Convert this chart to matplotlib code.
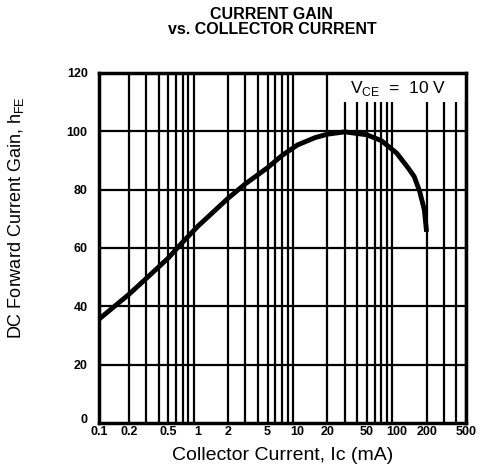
import numpy as np
import matplotlib
matplotlib.use('Agg')
import matplotlib.pyplot as plt
import matplotlib.transforms as mtransforms
from matplotlib.patches import Rectangle
from matplotlib.ticker import FixedLocator, NullFormatter

plt.rcParams['font.family'] = ['Liberation Sans', 'DejaVu Sans']

# curve
ic_ma = [0.1, 0.2, 0.3, 0.5, 0.7, 1, 2, 3, 5, 7, 10, 15, 20, 30, 50, 70, 100, 130, 150, 170, 190, 200]
hfe = [35.5, 44, 49.5, 56.5, 62, 67.5, 77, 82, 87.5, 91.7, 95.3, 97.8, 99, 99.8, 98.8, 96.8,
       92.5, 87.5, 84.5, 79.5, 73, 65.5]

x_ticks = [0.1, 0.2, 0.5, 1, 2, 5, 10, 20, 50, 100, 200, 500]
x_labels = ['0.1', '0.2', '0.5', '1', '2', '5', '10', '20', '50', '100', '200', '500']
y_ticks = [0, 20, 40, 60, 80, 100, 120]

fig = plt.figure(figsize=(4.82, 4.74), dpi=100)
ax = fig.add_axes([0.205, 0.108, 0.762, 0.738])

ax.set_xscale('log')
ax.set_xlim(0.1, 500)
ax.set_ylim(0, 120)

# full decade grid
minor = [m * 10.0**d for d in range(-1, 3) for m in range(2, 10)]
minor = [v for v in minor if v < 500]
for v in minor + [500]:
    ax.axvline(v, color='black', lw=1.6, zorder=1)
for v in y_ticks[1:-1]:
    ax.axhline(v, color='black', lw=1.6, zorder=1)

ax.plot(ic_ma, hfe, color='black', lw=3.5, solid_capstyle='butt',
        solid_joinstyle='round', zorder=3)

ax.xaxis.set_major_locator(FixedLocator(x_ticks))
ax.set_xticklabels(x_labels)
ax.xaxis.set_minor_formatter(NullFormatter())
ax.set_yticks(y_ticks)
ax.tick_params(which='both', length=0, labelsize=9)
ax.tick_params(axis='x', pad=2)
ax.tick_params(axis='y', pad=8)
for lab in ax.get_xticklabels() + ax.get_yticklabels():
    lab.set_fontweight('bold')
# lift the "0" label a little off the x axis
lab0 = ax.get_yticklabels()[0]
lab0.set_transform(lab0.get_transform() + mtransforms.ScaledTranslation(0, 3 / 72, fig.dpi_scale_trans))

for s in ax.spines.values():
    s.set_linewidth(2.5)
    s.set_zorder(6)

# white patch behind the condition label
ax.add_patch(Rectangle((0.643, 0.917), 0.357, 0.083, transform=ax.transAxes,
                       facecolor='white', edgecolor='none', zorder=4))
ax.text(0.815, 0.955, 'V$_{\\mathregular{CE}}$  =  10 V', transform=ax.transAxes,
        ha='center', va='center', fontsize=12.5, zorder=5)

ax.set_xlabel('Collector Current, Ic (mA)', fontsize=14, labelpad=7)
ax.set_ylabel('DC Forward Current Gain, h$_{\\mathregular{FE}}$', fontsize=13)
ax.yaxis.set_label_coords(-0.199, 0.587)

fig.text(0.564, 0.985, 'CURRENT GAIN\nvs. COLLECTOR CURRENT', ha='center', va='top',
         fontsize=11.5, fontweight='bold', linespacing=1.0)

fig.savefig('out.png', dpi=100)
